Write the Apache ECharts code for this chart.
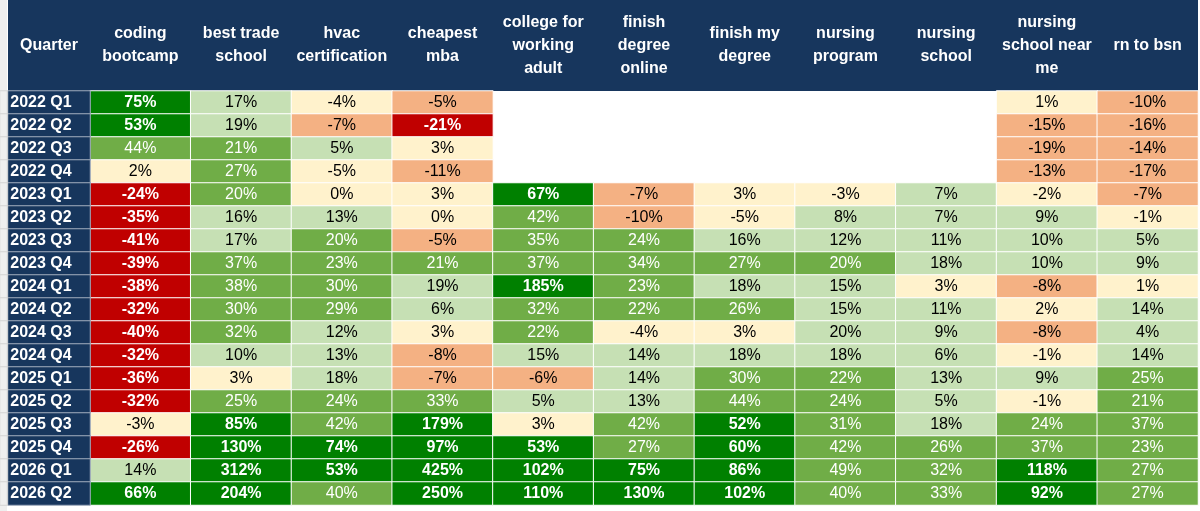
<!DOCTYPE html>
<html>
<head>
<meta charset="utf-8">
<script src="https://cdn.jsdelivr.net/npm/echarts@6/dist/echarts.min.js"></script>
<style>
html,body{margin:0;padding:0;background:#fff;}
#chart{width:1200px;height:511px;}
</style>
</head>
<body>
<div id="chart"></div>
<script>
// ---- data ----
var quarters = ['2022 Q1','2022 Q2','2022 Q3','2022 Q4','2023 Q1','2023 Q2','2023 Q3','2023 Q4',
  '2024 Q1','2024 Q2','2024 Q3','2024 Q4','2025 Q1','2025 Q2','2025 Q3','2025 Q4','2026 Q1','2026 Q2'];
var keywords = ['coding bootcamp','best trade school','hvac certification','cheapest mba',
  'college for working adult','finish degree online','finish my degree','nursing program',
  'nursing school','nursing school near me','rn to bsn'];
var headerLabels = ['coding\nbootcamp','best trade\nschool','hvac\ncertification','cheapest\nmba',
  'college for\nworking\nadult','finish\ndegree\nonline','finish my\ndegree','nursing\nprogram',
  'nursing\nschool','nursing\nschool near\nme','rn to bsn'];
var firstHeader = 'Quarter';

// growth in % (null = no data)
var codingBootcamp   = [75, 53, 44, 2, -24, -35, -41, -39, -38, -32, -40, -32, -36, -32, -3, -26, 14, 66];
var bestTradeSchool  = [17, 19, 21, 27, 20.2, 16, 17, 37, 38, 30, 32, 10, 3, 25, 85, 130, 312, 204];
var hvacCert         = [-4, -7, 5, -4.8, 0, 13, 20.2, 23, 30, 29, 12, 13, 18, 24, 42, 74, 53, 40];
var cheapestMba      = [-5.2, -21, 3, -11, 3, 0, -5.2, 21, 19, 6, 3, -8, -7, 33, 179, 97, 425, 250];
var collegeWorking   = [null, null, null, null, 67, 42, 35, 37, 185, 32, 22, 15, -6, 5, 3, 53, 102, 110];
var finishOnline     = [null, null, null, null, -7, -10, 24, 34, 23, 22, -4, 14, 14, 13, 42, 27, 75, 130];
var finishMyDegree   = [null, null, null, null, 3, -4.8, 16, 27, 18, 26, 3, 18, 30, 44, 52, 60, 86, 102];
var nursingProgram   = [null, null, null, null, -3, 8, 12, 20.2, 15, 15, 19.6, 18, 22, 24, 31, 42, 49, 40];
var nursingSchool    = [null, null, null, null, 7, 7, 11, 18, 3, 11, 9, 6, 13, 5, 18, 26, 32, 33];
var nursingNearMe    = [1, -15, -19, -13, -2, 9, 10, 10, -8, 2, -8, -1, 9, -1, 24, 37, 118, 92];
var rnToBsn          = [-10, -16, -14, -17, -7, -1, 5, 9, 1, 14, 4, 14, 25, 21, 37, 23, 27, 27];

var columns = [codingBootcamp, bestTradeSchool, hvacCert, cheapestMba, collegeWorking, finishOnline,
  finishMyDegree, nursingProgram, nursingSchool, nursingNearMe, rnToBsn];

// ---- build ----
var cells = [];
columns.forEach(function (col, x) {
  col.forEach(function (v, y) { if (v !== null) cells.push([x, y, v]); });
});
var labelCells = quarters.map(function (q, i) { return [0, i, 0]; });

var FONT = "Arial, 'Liberation Sans', sans-serif";
var NAVY = '#17365D';
var FS = 16;

function styleKey(v) {
  if (v <= -20 || v >= 50) return 'b';
  if (v >= 20) return 'w';
  return 'k';
}

var chart = echarts.init(document.getElementById('chart'), null, {renderer: 'canvas'});
chart.setOption({
  backgroundColor: '#ffffff',
  animation: false,
  grid: [
    {left: 90, top: 91, right: 2, bottom: 6, show: false},                       // 0 data
    {left: 8, top: 91, width: 82, bottom: 6, show: false},                       // 1 row labels
    {left: 8, top: 0, right: 2, height: 91, show: true, backgroundColor: NAVY, borderWidth: 0}, // 2 header bg
    {left: 0, top: 0, width: 7, bottom: 0, show: true, backgroundColor: '#efefef', borderWidth: 0}, // 3 gutter bg
    {left: 0, top: 91, width: 7, bottom: 6, show: false}                         // 4 gutter rows
  ],
  xAxis: [
    {gridIndex: 0, type: 'category', position: 'top', data: headerLabels,
      axisLine: {show: false}, axisTick: {show: false}, splitLine: {show: false},
      axisLabel: {interval: 0, color: '#ffffff', fontWeight: 'bold', fontSize: FS, fontFamily: FONT,
        lineHeight: 23, margin: 45.5, verticalAlign: 'middle', align: 'center'}},
    {gridIndex: 1, type: 'category', position: 'top', data: [firstHeader],
      axisLine: {show: false}, axisTick: {show: false}, splitLine: {show: false},
      axisLabel: {interval: 0, color: '#ffffff', fontWeight: 'bold', fontSize: FS, fontFamily: FONT,
        lineHeight: 23, margin: 45.5, verticalAlign: 'middle', align: 'center'}},
    {gridIndex: 2, type: 'value', show: false},
    {gridIndex: 3, type: 'value', show: false},
    {gridIndex: 4, type: 'category', data: ['g'], show: false}
  ],
  yAxis: [
    {gridIndex: 0, type: 'category', data: quarters, inverse: true, show: false},
    {gridIndex: 1, type: 'category', data: quarters, inverse: true, show: false},
    {gridIndex: 2, type: 'value', show: false},
    {gridIndex: 3, type: 'value', show: false},
    {gridIndex: 4, type: 'category', data: quarters, inverse: true, show: false}
  ],
  visualMap: {
    type: 'piecewise', show: false, dimension: 2, seriesIndex: 0,
    pieces: [
      {lte: -20, color: '#C00000'},
      {gt: -20, lte: -5, color: '#F4B183'},
      {gt: -5, lt: 3.5, color: '#FFF2CC'},
      {gte: 3.5, lt: 20, color: '#C6E0B4'},
      {gte: 20, lt: 50, color: '#70AD47'},
      {gte: 50, color: '#008000'}
    ]
  },
  series: [
    {
      type: 'heatmap', xAxisIndex: 0, yAxisIndex: 0, data: cells,
      itemStyle: {borderColor: '#ffffff', borderWidth: 1},
      emphasis: {disabled: true},
      label: {
        show: true,
        formatter: function (p) {
          var v = p.data[2];
          return '{' + styleKey(v) + '|' + Math.round(v) + '%}';
        },
        rich: {
          k: {color: '#000000', fontSize: FS, fontFamily: FONT},
          w: {color: '#ffffff', fontSize: FS, fontFamily: FONT},
          b: {color: '#ffffff', fontSize: FS, fontFamily: FONT, fontWeight: 'bold'}
        }
      }
    },
    {
      type: 'heatmap', xAxisIndex: 1, yAxisIndex: 1, data: labelCells,
      itemStyle: {color: NAVY, borderColor: '#9fabbd', borderWidth: 1},
      emphasis: {disabled: true},
      label: {
        show: true, position: 'insideLeft', distance: 3,
        color: '#ffffff', fontWeight: 'bold', fontSize: FS, fontFamily: FONT,
        formatter: function (p) { return quarters[p.data[1]]; }
      }
    },
    {
      type: 'heatmap', xAxisIndex: 4, yAxisIndex: 4, data: labelCells,
      itemStyle: {color: '#efefef', borderColor: '#d4d4d4', borderWidth: 1},
      emphasis: {disabled: true},
      label: {show: false}
    }
  ]
});
</script>
</body>
</html>
